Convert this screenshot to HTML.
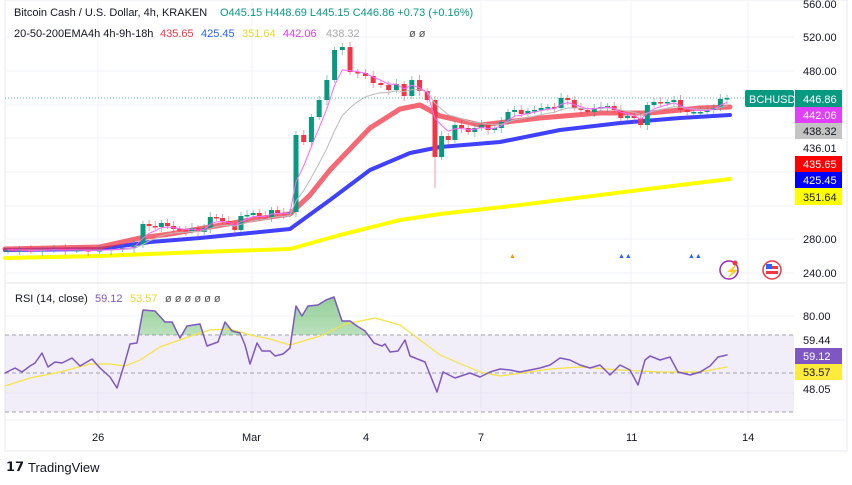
<!DOCTYPE html>
<html><head><meta charset="utf-8"><style>
body{margin:0;background:#fff;width:852px;height:485px;overflow:hidden;font-family:"Liberation Sans",sans-serif}
svg{position:absolute;left:0;top:0}
</style></head><body>
<svg id="s" width="852" height="485" xmlns="http://www.w3.org/2000/svg" font-family="Liberation Sans, sans-serif">
<rect x="5" y="0" width="842" height="451" fill="none" stroke="#e6e9f0"/>
<g stroke="#f2f3f6" stroke-width="1">
<line x1="5" y1="37" x2="794" y2="37"/><line x1="5" y1="71" x2="794" y2="71"/><line x1="5" y1="105" x2="794" y2="105"/><line x1="5" y1="138" x2="794" y2="138"/><line x1="5" y1="172" x2="794" y2="172"/><line x1="5" y1="206" x2="794" y2="206"/><line x1="5" y1="239" x2="794" y2="239"/><line x1="5" y1="273" x2="794" y2="273"/>
<line x1="5" y1="316" x2="794" y2="316"/><line x1="5" y1="393" x2="794" y2="393"/>
<line x1="98" y1="0" x2="98" y2="420"/><line x1="252" y1="0" x2="252" y2="420"/><line x1="366" y1="0" x2="366" y2="420"/><line x1="481" y1="0" x2="481" y2="420"/><line x1="631" y1="0" x2="631" y2="420"/><line x1="748" y1="0" x2="748" y2="420"/>
</g>
<line x1="5" y1="283" x2="847" y2="283" stroke="#e0e3eb"/>
<line x1="5" y1="420" x2="847" y2="420" stroke="#f0f1f4"/>
<g id="c"></g>
<rect x="5" y="335" width="789" height="77" fill="#7e57c2" fill-opacity="0.1"/>
<g stroke="#a0a3ad" stroke-dasharray="4,3" stroke-width="1"><line x1="5" y1="335" x2="794" y2="335"/><line x1="5" y1="373" x2="794" y2="373"/><line x1="5" y1="412" x2="794" y2="412"/></g>
<defs><clipPath id="cp"><rect x="0" y="280" width="852" height="55"/></clipPath>
<linearGradient id="gg" x1="0" y1="0" x2="0" y2="1"><stop offset="0" stop-color="#4caf50" stop-opacity="0.6"/><stop offset="1" stop-color="#4caf50" stop-opacity="0.05"/></linearGradient></defs>
<g id="r"></g>
<g font-size="11" fill="#131722">
<text x="15" y="302">RSI (14, close)</text><text x="95" y="302" fill="#7e57c2">59.12</text><text x="130" y="302" fill="#e8d92f">53.57</text><text x="165" y="302" fill="#555">ø ø ø ø ø ø</text>
<text x="14" y="16">Bitcoin Cash / U.S. Dollar, 4h, KRAKEN</text>
<text x="220" y="16" fill="#089981">O445.15  H448.69  L445.15  C446.86  +0.73 (+0.16%)</text>
<text x="14" y="37">20-50-200EMA4h 4h-9h-18h</text><text x="160" y="37" fill="#f23645">435.65</text><text x="201" y="37" fill="#2962ff">425.45</text><text x="242" y="37" fill="#e8d92f">351.64</text><text x="283" y="37" fill="#e040fb">442.06</text><text x="326" y="37" fill="#aaa">438.32</text><text x="409" y="37" fill="#555">ø  ø</text>
<text x="803" y="8">560.00</text><text x="803" y="41">520.00</text><text x="803" y="75">480.00</text><text x="803" y="152">436.01</text><text x="803" y="243">280.00</text><text x="803" y="277">240.00</text>
<text x="803" y="320">80.00</text><text x="803" y="344">59.44</text><text x="803" y="393">48.05</text>
<text x="92" y="441">26</text><text x="242" y="441">Mar</text><text x="363" y="441">4</text><text x="478" y="441">7</text><text x="626" y="441">11</text><text x="742" y="441">14</text>
</g>
<rect x="745" y="90" width="49" height="17" rx="2" fill="#089981"/><text x="749" y="103" font-size="11" fill="#fff">BCHUSD</text>
<rect x="795" y="90" width="47" height="17" fill="#089981"/><text x="803" y="103" font-size="11" fill="#fff">446.86</text>
<rect x="795" y="107" width="47" height="16" fill="#e040fb"/><text x="803" y="119" font-size="11" fill="#fff">442.06</text>
<rect x="795" y="123" width="47" height="16" fill="#c4c4c4"/><text x="803" y="135" font-size="11" fill="#131722">438.32</text>
<rect x="795" y="156" width="47" height="16" fill="#ff0000"/><text x="803" y="168" font-size="11" fill="#fff">435.65</text>
<rect x="795" y="172" width="47" height="16" fill="#0000ff"/><text x="803" y="184" font-size="11" fill="#fff">425.45</text>
<rect x="795" y="188" width="47" height="17" fill="#ffff00"/><text x="803" y="201" font-size="11" fill="#131722">351.64</text>
<rect x="795" y="348" width="47" height="16" fill="#7e57c2"/><text x="803" y="360" font-size="11" fill="#fff">59.12</text>
<rect x="795" y="364" width="47" height="16" fill="#ffeb3b"/><text x="803" y="376" font-size="11" fill="#131722">53.57</text>
<line x1="5" y1="98" x2="794" y2="98" stroke="#089981" stroke-opacity="0.6" stroke-dasharray="1,2"/>
<circle cx="729" cy="270" r="9" fill="none" stroke="#9c27b0" stroke-width="1.5"/><text x="725" y="275" font-size="12" fill="#9c27b0">⚡</text><circle cx="735" cy="263" r="2.5" fill="#f23645"/>
<circle cx="772" cy="270" r="9" fill="#fff" stroke="#f23645" stroke-width="1.5"/><rect x="766" y="266" width="12" height="3" fill="#f23645"/><rect x="766" y="271" width="12" height="3" fill="#f23645"/><rect x="766" y="264" width="6" height="5" fill="#2962ff"/>
<g fill="#2962ff" font-size="7"><text x="618" y="258">▲▲</text><text x="688" y="258">▲▲</text></g><text x="509" y="258" font-size="7" fill="#ff9800">▲</text>
<text x="6" y="471" font-size="13" font-weight="bold" fill="#131722">𝟭𝟳</text>
<text x="28" y="472" font-size="13" fill="#131722">TradingView</text>
</svg>
<script>
var N="http://www.w3.org/2000/svg";
function el(p,t,a){var e=document.createElementNS(N,t);for(var k in a)e.setAttribute(k,a[k]);p.appendChild(e);return e}
var c=document.getElementById('c'),r=document.getElementById('r');
function pl(g,pts,col,w,op){el(g,'polyline',{points:pts.map(p=>p.join(',')).join(' '),fill:'none',stroke:col,'stroke-width':w,'stroke-opacity':op||1,'stroke-linejoin':'round','stroke-linecap':'round'})}
pl(c,[[5,258],[100,256],[200,252],[290,249],[340,235],[400,220],[440,214],[520,205],[600,195],[680,185],[730,179]],'#ffff00',4);
pl(c,[[5,250],[100,249],[150,242],[200,238],[290,229],[330,200],[370,170],[410,153],[440,147],[500,142],[560,130],[620,123],[680,118],[730,115]],'#4040ff',4);
pl(c,[[5,249],[100,247],[140,238],[170,234],[250,220],[290,214],[310,195],[330,170],[370,128],[400,109],[420,105],[440,116],[480,125],[540,118],[600,113],[650,113],[700,108],[730,107]],'#f23645',5,0.75);
var cl=[250,250,251,250,249,250,250,251,250,249,248,245,224,226,227,223,226,229,230,231,228,232,228,217,218,221,224,230,216,215,213,216,217,210,213,214,212,135,142,117,100,80,50,47,72,73,76,83,85,90,84,96,80,91,100,157,136,140,125,128,132,128,125,130,128,122,112,110,114,111,110,108,107,108,98,100,108,110,112,108,107,106,110,118,116,118,125,105,102,103,102,100,110,112,112,112,110,108,99,98];
function X(i){if(i<=11)return 8+i*(134-8)/11;if(i<=37)return 143+(i-12)*(296-143)/25;if(i<=55)return 296+(i-37)*(435-296)/18;return 435+(i-55)*(727-435)/44;}
var prev=251;
cl.forEach(function(v,i){var x=X(i),o=prev,up=v<=o;var col=up?'#089981':'#f23645';var hi=Math.min(o,v)-3-(i%3),lo=Math.max(o,v)+3+(i%2)*2;if(i==55)lo=188;
el(c,'line',{x1:x,y1:hi,x2:x,y2:lo,stroke:col,'stroke-opacity':0.5});el(c,'rect',{x:x-2.5,y:Math.min(o,v),width:5,height:Math.max(1.5,Math.abs(o-v)),fill:col});prev=v;});
var ac=[],ag=[],a=250,b=250;cl.forEach(function(v,i){a=a+(v-a)*0.4;b=b+(v-b)*0.18;ac.push([X(i),a]);ag.push([X(i),b]);});
pl(c,ag,'#bbbbbb',1);pl(c,ac,'#ff66ff',1);
var R=[[5,373],[15,368],[22,372],[30,366],[35,363],[42,353],[48,367],[55,362],[62,363],[72,358],[80,366],[92,359],[100,368],[110,377],[117,388],[125,362],[130,344],[137,343],[143,310],[155,311],[165,322],[172,322],[180,338],[187,326],[200,324],[207,346],[218,342],[225,322],[232,331],[240,333],[245,345],[250,364],[257,343],[262,351],[270,351],[275,356],[283,354],[290,348],[296,306],[302,316],[308,306],[318,305],[326,300],[334,297],[342,321],[350,321],[357,326],[365,331],[374,343],[382,346],[385,344],[390,352],[398,351],[405,340],[410,356],[425,362],[437,392],[443,372],[455,378],[470,373],[480,377],[490,372],[500,369],[510,370],[520,372],[540,368],[550,365],[560,358],[570,360],[580,365],[590,368],[600,365],[610,375],[620,365],[630,370],[638,385],[645,360],[650,356],[660,360],[670,357],[678,372],[690,375],[700,372],[710,366],[718,357],[727,355]];
var area=R.map(p=>p.join(',')).join(' ')+' 727,335 5,335';
el(r,'polygon',{points:area,fill:'url(#gg)','clip-path':'url(#cp)'});
pl(r,[[5,386],[30,378],[60,372],[90,364],[110,364],[125,366],[140,360],[160,347],[185,338],[210,330],[230,329],[250,335],[270,339],[290,345],[300,342],[320,336],[345,324],[375,318],[400,325],[420,340],[440,355],[480,372],[500,376],[550,369],[580,367],[620,370],[660,372],[700,372],[727,367]],'#f5e342',1.2);
pl(r,R,'#7e57c2',1.5);
</script>
</body></html>
